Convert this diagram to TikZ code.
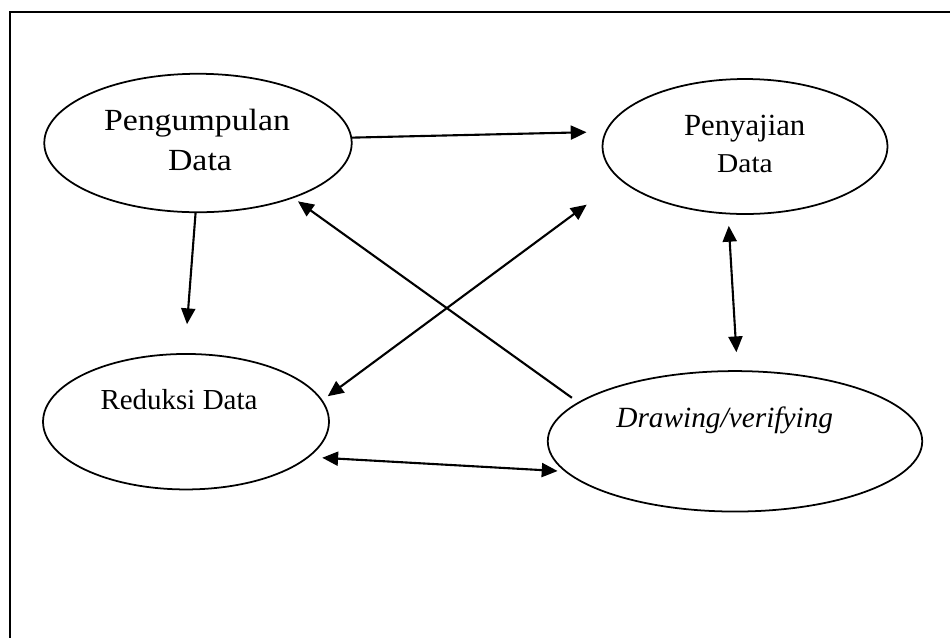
\documentclass[tikz,border=0pt]{standalone}
\usepackage{fontspec}
\setmainfont{Liberation Serif}
\usetikzlibrary{shapes.geometric,arrows.meta}
\tikzset{
	blob/.style={ellipse,draw,line width=1pt,inner sep=0pt},
	lbl/.style={anchor=base,inner sep=0pt},
	arr/.style={line width=1.2pt,-{Triangle[length=9pt,width=8pt]}},
	biarr/.style={line width=1.2pt,{Triangle[length=9pt,width=8pt]}-{Triangle[length=9pt,width=8pt]}}
}
\begin{document}
\begin{tikzpicture}[x=0.02cm,y=-0.02cm]
	\useasboundingbox (0,0) rectangle (950,637);
	\draw[line width=1.1pt] (952,12) -- (10,12) -- (10,640);
	
	\node[blob,minimum width=6.15cm,minimum height=2.77cm] (peng) at(198,143) {};
	\node[blob,minimum width=5.70cm,minimum height=2.70cm] (peny) at(745,146.5) {};
	\node[blob,minimum width=5.72cm,minimum height=2.71cm] (red) at(186,421.7) {};
	\node[blob,minimum width=7.49cm,minimum height=2.81cm] (verif) at(735,441.3) {};
	
	\node[lbl,font=\fontsize{17.5}{20}\selectfont] (pengA) at(197,130.7) {\scalebox{1.1}[1]{Pengumpulan}};
	\node[lbl,font=\fontsize{17.5}{20}\selectfont] (pengB) at(200,170.7) {\scalebox{1.1}[1]{Data}};
	\node[lbl,font=\fontsize{17.5}{20}\selectfont] (penyA) at(744.7,135) {Penyajian};
	\node[lbl,font=\fontsize{15.5}{18}\selectfont] (penyB) at(745,172.7) {\scalebox{1.08}[1]{Data}};
	\node[lbl,font=\fontsize{16.5}{19}\selectfont] (redA) at(179,409) {Reduksi Data};
	\node[lbl,font=\fontsize{16.7}{19}\selectfont\itshape] (verifA) at(724.7,427.3) {Drawing/verifying};
	
	\draw[arr,shorten >=0.37cm] (peng.2)--(peny.174);
	\draw[arr,shorten >=0.58cm] (peng.268)--(red.91);
	\draw[arr,shorten <=0.15cm,shorten >=0.11cm] (verif.166)--(peng.330);
	\draw[biarr,shorten <=0.13cm,shorten >=0.83cm] (red.9)--(peny.195);
	\draw[biarr,shorten <=0.23cm,shorten >=0.36cm] (peny.256)--(verif.88);
	\draw[biarr,shorten <=0.26cm,shorten >=0.14cm] (red.344)--(verif.190);
\end{tikzpicture}
\end{document}
